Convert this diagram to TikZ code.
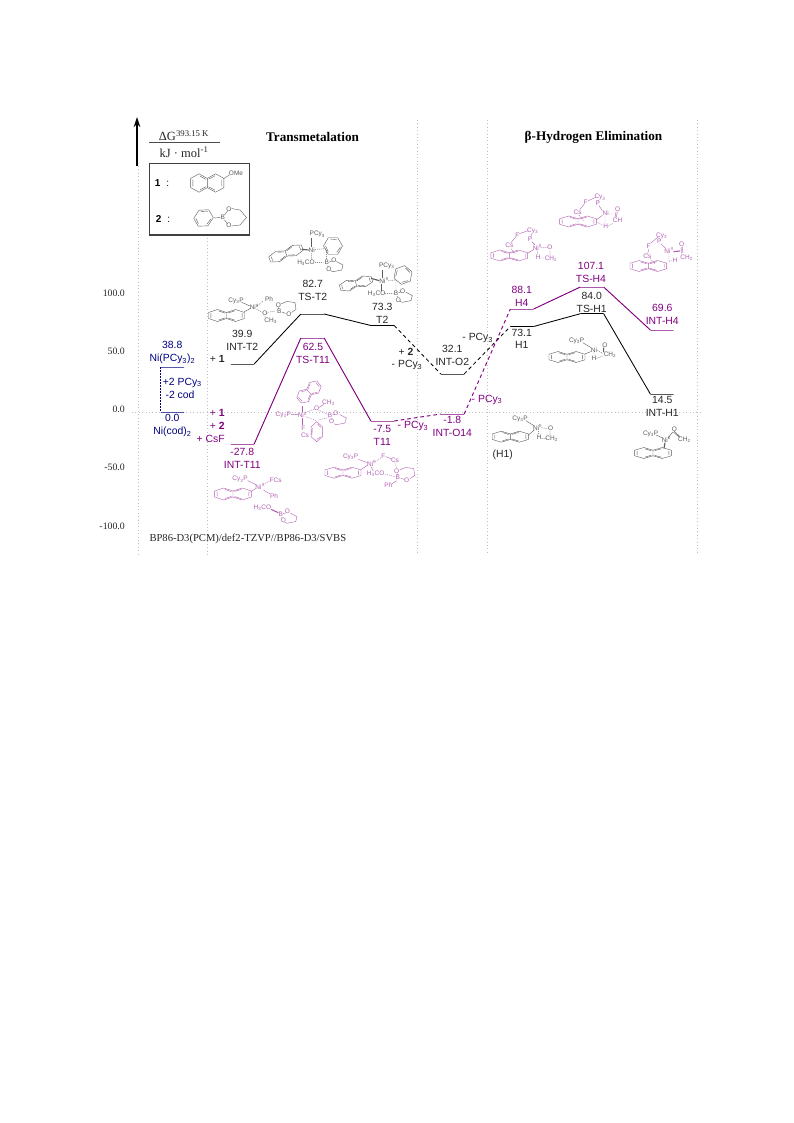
\documentclass[tikz,border=0pt]{standalone}
\usepackage{fontspec}
\setmainfont{Liberation Serif}
\setsansfont{Liberation Sans}
\usetikzlibrary{arrows.meta}
\definecolor{pur}{HTML}{800080}
\definecolor{nav}{HTML}{000080}
\definecolor{molp}{HTML}{B060B0}
\definecolor{molk}{HTML}{5A5A5A}
\colorlet{mol}{molk}
\newcount\mtc
\newcommand\mt[3]{\global\advance\mtc by 1 \node[mtxt,name=m\the\mtc] at (#1,#2) {#3};}
\newcommand\sbs[1]{\textsubscript{#1}}
\newcommand\sps[1]{\textsuperscript{#1}}
% naphthalene: centre x,y; scale xs,ys; rotation
\newcommand\naph[5]{\begin{scope}[shift={(#1,#2)},rotate=#5,xscale=#3,yscale=#4]
\draw[bond] (-1.732,-.5)--(-1.732,.5)--(-.866,1)--(0,.5)--(.866,1)--(1.732,.5)--(1.732,-.5)--(.866,-1)--(0,-.5)--(-.866,-1)--cycle (0,-.5)--(0,.5);
\draw[bond] (-1.5,-.38)--(-1.5,.38) (-.75,.75)--(-.15,.4) (-.75,-.75)--(-.15,-.4) (.15,.42)--(.8,.78) (.15,-.42)--(.8,-.78) (1.5,-.38)--(1.5,.38);
\end{scope}}
% benzene: centre x,y; radii; rotation
\newcommand\hexa[5]{\begin{scope}[shift={(#1,#2)},rotate=#5,xscale=#3,yscale=#4]
\draw[bond] (30:1)--(90:1)--(150:1)--(210:1)--(270:1)--(330:1)--cycle (40:.78)--(90:.78) (160:.78)--(210:.78) (280:.78)--(330:.78);
\end{scope}}
% boronate ring, O above B, ring to the upper right
\newcommand\bring[2]{\begin{scope}[shift={(#1,#2)}]
\draw[bond] (-.4,-2)--(-.2,-3.6) (1.8,-7)--(8,-9.5)--(16,-8.5)--(17,-1.5)--(12.5,1.5) (3,1)--(6.5,2.4);
\end{scope}}
% boronate ring, O to the right of B, ring flat to the right
\newcommand\bringb[2]{\begin{scope}[shift={(#1,#2)}]
\draw[bond] (2.5,-.7)--(5,-1.4) (1,2.8)--(1.5,3.8) (9.7,-1.2)--(16.3,2.3)--(15,7.3)--(6.3,9)--(4,8);
\end{scope}}
\tikzset{
 x=1pt,y=-1pt,
 grid/.style={gray!50,line width=.55,dash pattern=on .8 off 2.6},
 lvl/.style={draw,minimum width=23.3,minimum height=0,inner sep=0,line width=.95,outer sep=0},
 lvlk/.style={lvl,black},
 lvlp/.style={lvl,pur},
 lvlb/.style={lvl,nav},
 conk/.style={black,line width=.85},
 conp/.style={pur,line width=.95},
 dk/.style={conk,dash pattern=on 3.6 off 3},
 dp/.style={conp,dash pattern=on 3.6 off 3},
 lab/.style={font=\sffamily\fontsize{10.4}{11}\selectfont,inner sep=0},
 labk/.style={lab,text=black!85},
 labp/.style={lab,text=pur},
 labb/.style={lab,text=nav},
 tick/.style={font=\fontsize{9.8}{10}\selectfont,inner sep=0,anchor=east,text=black!85},
 ttl/.style={font=\bfseries\fontsize{13.2}{14}\selectfont,inner sep=0},
 mtxt/.style={font=\sffamily\fontsize{6.5}{7}\selectfont,text=mol,inner sep=0},
 bond/.style={draw=mol,line width=.4},
 dbond/.style={draw=mol,line width=.4,dash pattern=on 1 off 1},
 wbond/.style={draw=mol,line width=1.1},
 zm/.style 2 args={shift={(#1,#2)},scale=.33333},
}
\begin{document}
\begin{tikzpicture}
\useasboundingbox (0,0) rectangle (793,1123);
% grid
\coordinate (g0t) at (138,166); \coordinate (g0b) at (138,555);
\coordinate (g1t) at (207.5,238); \coordinate (g1b) at (207.5,555);
\coordinate (g2t) at (417.5,120); \coordinate (g2b) at (417.5,555);
\coordinate (g3t) at (487.5,120); \coordinate (g3b) at (487.5,555);
\coordinate (g4t) at (697.5,120); \coordinate (g4b) at (697.5,555);
\coordinate (zl) at (132,412.5); \coordinate (zr) at (700,412.5);
\draw[grid] (g0t)--(g0b) (g1t)--(g1b) (g2t)--(g2b) (g3t)--(g3b) (g4t)--(g4b) (zl)--(zr);
% axis
\coordinate (axb) at (137,166); \coordinate (axt) at (137,117);
\draw[black,line width=1.1,-{Stealth[length=10pt,width=6.5pt]}] (axb)--(axt);
\node[tick] (t1) at (125,293) {100.0};
\node[tick] (t2) at (125,351) {50.0};
\node[tick] (t3) at (125,409) {0.0};
\node[tick] (t4) at (125,467) {-50.0};
\node[tick] (t5) at (125,526) {-100.0};
% header
\node[inner sep=0,font=\fontsize{12.5}{14}\selectfont,text=black!85] (dg) at (184,135.5) {ΔG\textsuperscript{393.15 K}};
\coordinate (fl) at (149,143); \coordinate (fr) at (219.5,143);
\draw[black!70,line width=1] (fl)--(fr);
\node[inner sep=0,font=\fontsize{12.5}{14}\selectfont,text=black!85] (kj) at (184,152) {kJ · mol\textsuperscript{-1}};
\node[ttl] (ttla) at (312.5,137) {Transmetalation};
\node[ttl] (ttlb) at (593.5,137) {β-Hydrogen Elimination};
% legend
\node[draw=black!75,line width=1.1,minimum width=99.5,minimum height=71.5,inner sep=0] (leg) at (199.3,199.3) {};
\node[inner sep=0,font=\sffamily\fontsize{10}{11}\selectfont] (l1) at (162,183) {\textbf{1}\hspace{6pt}:};
\node[inner sep=0,font=\sffamily\fontsize{10}{11}\selectfont] (l2) at (163,219) {\textbf{2}\hspace{6pt}:};
\naph{207.3}{183}{9.6}{9.2}{0}
\mt{236}{173.5}{OMe}
\draw[bond] (223.7,178.5)--(229.5,175);
\hexa{203.5}{218}{10}{9}{30}
\draw[bond] (213.5,218)--(220.5,217.5) (224.5,215)--(227.5,211) (224.5,220)--(227.5,224) (231.5,208.5)--(240,210)--(246.5,217.5)--(240,225)--(231.5,226);
\mt{222.7}{217.5}{B}\mt{229}{209}{O}\mt{229}{225.7}{O}
% levels and connectors
\node[lvlk] (aT2) at (242.5,364) {};
\node[lvlk] (bT2) at (312.5,314) {};
\node[lvlk] (cT2) at (382.5,325.5) {};
\node[lvlk] (dO2) at (452.5,374) {};
\node[lvlk] (eH1) at (522,326.5) {};
\node[lvlk] (fH1) at (592,313.7) {};
\node[lvlk] (gH1) at (662,394) {};
\node[lvlp] (aT) at (242.5,444) {};
\node[lvlp] (bT) at (312.5,338) {};
\node[lvlp] (cT) at (382.5,421) {};
\node[lvlp] (dO) at (452.5,414) {};
\node[lvlp] (eH) at (522,309) {};
\node[lvlp] (fH) at (592,287) {};
\node[lvlp] (gH) at (662,330) {};
\node[lvlb] (ni1) at (172.5,367) {};
\node[lvlb] (ni0) at (172.5,412) {};
\draw[conk] (aT2.east)--(bT2.west) (bT2.east)--(cT2.west) (eH1.east)--(fH1.west) (fH1.east)--(gH1.west);
\draw[dk] (cT2.east)--(dO2.west) (dO2.east)--(eH1.west);
\draw[conp] (aT.east)--(bT.west) (bT.east)--(cT.west) (eH.east)--(fH.west) (fH.east)--(gH.west);
\draw[dp] (cT.east)--(dO.west) (dO.east)--(eH.west);
\draw[nav,line width=.9,dash pattern=on 1.6 off 1.4] (ni1.west)--(ni0.west);
% labels black
\node[labk] (n1) at (242.3,334.3) {39.9};
\node[labk] (n2) at (242.3,347.3) {INT-T2};
\node[labk] (n3) at (217.3,359.3) {+ \textbf{1}};
\node[labk] (n4) at (312.7,284.3) {82.7};
\node[labk] (n5) at (312.7,297.3) {TS-T2};
\node[labk] (n6) at (382.3,306.7) {73.3};
\node[labk] (n7) at (382.3,320) {T2};
\node[labk] (n8) at (406,351.7) {+ \textbf{2}};
\node[labk] (n9) at (407,365) {- PCy\sbs{3}};
\node[labk] (n10) at (452.3,349) {32.1};
\node[labk] (n11) at (452.3,362) {INT-O2};
\node[labk] (n12) at (477.7,338.3) {- PCy\sbs{3}};
\node[labk] (n13) at (521.7,332.5) {73.1};
\node[labk] (n14) at (521.7,345.3) {H1};
\node[labk] (n15) at (591.7,296) {84.0};
\node[labk] (n16) at (591.7,309) {TS-H1};
\node[labk] (n17) at (662.3,400) {14.5};
\node[labk] (n18) at (662.3,413.3) {INT-H1};
\node[labk] (n19) at (502.7,455) {(H1)};
% labels purple
\node[labp] (p1) at (313,347.3) {62.5};
\node[labp] (p2) at (313,360) {TS-T11};
\node[labp] (p3) at (242.3,452.3) {-27.8};
\node[labp] (p4) at (242.3,465) {INT-T11};
\node[labp] (p5) at (382.3,429.3) {-7.5};
\node[labp] (p6) at (382.3,442.3) {T11};
\node[labp] (p7) at (413,426) {- PCy\sbs{3}};
\node[labp] (p8) at (452.3,420) {-1.8};
\node[labp] (p9) at (452.3,433.3) {INT-O14};
\node[labp] (p10) at (487,399.7) {- PCy\sbs{3}};
\node[labp] (p11) at (521.7,290) {88.1};
\node[labp] (p12) at (521.7,302.7) {H4};
\node[labp] (p13) at (591,266) {107.1};
\node[labp] (p14) at (591,279) {TS-H4};
\node[labp] (p15) at (662.3,307.7) {69.6};
\node[labp] (p16) at (662.3,320.7) {INT-H4};
\node[labp] (p17) at (217.3,412.7) {+ \textbf{1}};
\node[labp] (p18) at (217.3,426) {+ \textbf{2}};
\node[labp] (p19) at (210.7,439.3) {+ CsF};
% labels blue
\node[labb] (b1) at (172.3,345.3) {38.8};
\node[labb] (b2) at (172.3,358.7) {Ni(PCy\sbs{3})\sbs{2}};
\node[labb] (b3) at (182.3,382.7) {+2 PCy\sbs{3}};
\node[labb] (b4) at (180,395) {-2 cod};
\node[labb] (b5) at (172.3,418.3) {0.0};
\node[labb] (b6) at (172.3,431.7) {Ni(cod)\sbs{2}};
% footer
\node[inner sep=0,anchor=west,font=\fontsize{10.6}{12}\selectfont,text=black!85] (foot) at (149.3,539.3) {BP86-D3(PCM)/def2-TZVP//BP86-D3/SVBS};
% ---- grey molecules
% INT-T2
\naph{226.5}{315.5}{10.4}{6}{0}
\bring{279}{311}
\begin{scope}[zm={205}{225}]
\mt{93}{228}{Cy\sbs{3}P}\mt{148}{246}{Ni\sps{II}}\mt{192}{222}{Ph}\mt{180}{266}{O}\mt{197}{287}{CH\sbs{3}}\mt{223}{258}{B}\mt{220}{240}{O}\mt{252}{268}{O}
\draw[bond] (110,232)--(135,243) (118,260)--(137,250) (180,272)--(180,278);
\draw[dbond] (157,242)--(175,228) (155,253)--(172,262) (188,262)--(212,258);
\end{scope}
% TS-T2
\naph{286}{253.5}{10}{5.5}{20}
\hexa{333}{246}{9.5}{9.5}{30}
\bringb{326.7}{262.7}
\begin{scope}[zm={130}{110}]
\mt{562}{373}{PCy\sbs{3}}\mt{545}{420}{Ni}\mt{528}{458}{H\sbs{3}CO}\mt{590}{458}{B}\mt{612}{452}{O}\mt{597}{478}{O}
\draw[bond] (545,385)--(545,410);
\draw[wbond] (515,418)--(536,420);
\draw[dbond] (555,418)--(590,416) (545,430)--(545,450) (555,458)--(580,458) (590,420)--(590,450);
\end{scope}
% T2
\naph{356}{283.5}{9.5}{5.5}{15}
\hexa{403}{275}{9.5}{9.5}{-10}
\bringb{396}{293.3}
\begin{scope}[zm={335}{250}]
\mt{155}{47}{PCy\sbs{3}}\mt{147}{92}{Ni\sps{II}}\mt{125}{132}{H\sbs{3}CO}\mt{183}{130}{B}\mt{203}{125}{O}\mt{190}{150}{O}
\draw[bond] (142,60)--(142,85) (140,102)--(140,122);
\draw[wbond] (108,85)--(133,92);
\draw[dbond] (160,92)--(185,90) (150,130)--(175,130) (183,95)--(183,122);
\end{scope}
% H1 structure right
\naph{567}{357}{10.4}{5.5}{0}
\begin{scope}[zm={490}{330}]
\mt{260}{32}{Cy\sbs{3}P}\mt{312}{60}{Ni}\mt{312}{85}{H}\mt{345}{45}{O}\mt{360}{75}{CH\sbs{2}}
\draw[bond] (278,38)--(303,53) (285,72)--(302,65) (342,52)--(342,66) (340,53)--(340,66);
\draw[dbond] (322,60)--(338,70) (312,68)--(312,78) (320,85)--(338,78);
\end{scope}
% (H1)
\naph{510.3}{436.7}{10.4}{5.5}{0}
\begin{scope}[zm={490}{330}]
\mt{90}{267}{Cy\sbs{3}P}\mt{143}{293}{Ni\sps{II}}\mt{182}{296}{O}\mt{148}{323}{H}\mt{185}{325}{CH\sbs{2}}
\draw[bond] (108,272)--(133,288) (115,315)--(133,300) (180,303)--(180,317);
\draw[dbond] (155,293)--(173,296) (146,303)--(146,316) (155,325)--(170,325);
\end{scope}
% INT-H1
\naph{653}{453}{10.6}{5.5}{0}
\begin{scope}[zm={490}{330}]
\mt{482}{312}{Cy\sbs{3}P}\mt{529}{328}{Ni\sps{0}}\mt{553}{297}{O}\mt{583}{328}{CH\sbs{2}}
\draw[bond] (498,315)--(518,324) (535,323)--(548,306) (550,306)--(568,322) (553,304)--(570,320);
\draw[wbond] (525,338)--(522,355);
\end{scope}
% ---- purple molecules
\colorlet{mol}{molp}
% TS-T11
\naph{309}{392}{7.5}{7}{40}
\hexa{316.7}{431.7}{6.5}{10}{0}
\bringb{330}{415.7}
\begin{scope}[zm={265}{375}]
\mt{55}{120}{Cy\sbs{3}P}\mt{112}{120}{Ni\sps{II}}\mt{190}{82}{CH\sbs{3}}\mt{155}{100}{O}\mt{115}{160}{F}\mt{120}{180}{Cs}\mt{195}{122}{B}\mt{213}{115}{O}\mt{200}{138}{O}
\draw[bond] (78,118)--(100,118) (162,97)--(177,88);
\draw[wbond] (113,110)--(113,92) (113,128)--(113,150);
\draw[dbond] (122,112)--(148,102) (160,105)--(188,118) (122,125)--(155,137) (160,135)--(190,128);
\end{scope}
% INT-T11
\naph{233}{494}{10.6}{6}{0}
\bringb{280.7}{514.3}
\begin{scope}[zm={210}{450}]
\mt{90}{88}{Cy\sbs{3}P}\mt{150}{110}{Ni\sps{II}}\mt{197}{90}{FCs}\mt{192}{138}{Ph}\mt{157}{173}{H\sbs{3}CO}\mt{212}{193}{B}\mt{232}{185}{O}\mt{220}{210}{O}
\draw[bond] (113,92)--(138,104) (122,125)--(138,115) (160,120)--(180,132);
\draw[dbond] (160,103)--(180,92);
\draw[wbond] (183,178)--(205,188);
\end{scope}
% T11
\naph{343}{472.7}{10.4}{5.5}{0}
\bring{397.7}{477}
\begin{scope}[zm={210}{450}]
\mt{422}{20}{Cy\sbs{3}P}\mt{485}{40}{Ni\sps{II}}\mt{520}{18}{F}\mt{555}{30}{Cs}\mt{497}{72}{H\sbs{3}CO}\mt{535}{105}{Ph}\mt{563}{82}{B}\mt{560}{65}{O}\mt{590}{92}{O}
\draw[bond] (445,28)--(473,38) (452,60)--(473,45) (527,20)--(545,27) (483,50)--(490,63) (560,92)--(545,102);
\draw[dbond] (495,35)--(515,22) (555,38)--(560,55) (525,72)--(555,80);
\end{scope}
% H4
\naph{509.3}{255.5}{10.6}{5.5}{0}
\begin{scope}[zm={485}{190}]
\mt{73}{167}{Cs}\mt{97}{135}{F}\mt{143}{122}{Cy\sbs{3}}\mt{135}{148}{P}\mt{157}{172}{Ni\sps{II}}\mt{195}{172}{O}\mt{160}{203}{H}\mt{198}{205}{CH\sbs{2}}
\draw[bond] (78,158)--(92,141) (103,131)--(130,122) (141,130)--(137,141) (140,155)--(150,165) (128,190)--(147,178) (195,180)--(195,196);
\draw[dbond] (167,172)--(188,172) (157,182)--(157,195) (168,204)--(180,204) (78,176)--(90,192);
\end{scope}
% TS-H4
\naph{578}{221.5}{10.6}{5.5}{0}
\begin{scope}[zm={485}{190}]
\mt{278}{68}{Cs}\mt{302}{38}{F}\mt{345}{22}{Cy\sbs{3}}\mt{338}{40}{P}\mt{362}{70}{Ni}\mt{398}{57}{O}\mt{398}{92}{CH}\mt{362}{110}{H}
\draw[bond] (284,59)--(297,43) (308,33)--(332,22) (342,30)--(339,34) (342,47)--(352,62) (333,90)--(352,76) (393,65)--(390,82) (397,65)--(394,82);
\draw[dbond] (373,72)--(388,72) (360,79)--(360,102) (370,108)--(385,100) (283,76)--(295,92) (333,95)--(352,106);
\end{scope}
% INT-H4
\naph{648.3}{266}{10.6}{5.5}{0}
\begin{scope}[zm={485}{190}]
\mt{487}{200}{Cs}\mt{491}{170}{F}\mt{530}{138}{Cy\sbs{3}}\mt{523}{155}{P}\mt{552}{182}{Ni\sps{II}}\mt{590}{163}{O}\mt{605}{202}{CH\sbs{2}}\mt{570}{212}{H}
\draw[bond] (491,178)--(488,192) (497,160)--(520,140) (526,147)--(524,150) (528,162)--(542,175) (588,171)--(590,190) (592,171)--(594,190);
\draw[wbond] (565,185)--(585,183);
\draw[dbond] (552,192)--(552,214) (552,214)--(560,212) (495,205)--(510,222);
\end{scope}
\end{tikzpicture}
\end{document}
